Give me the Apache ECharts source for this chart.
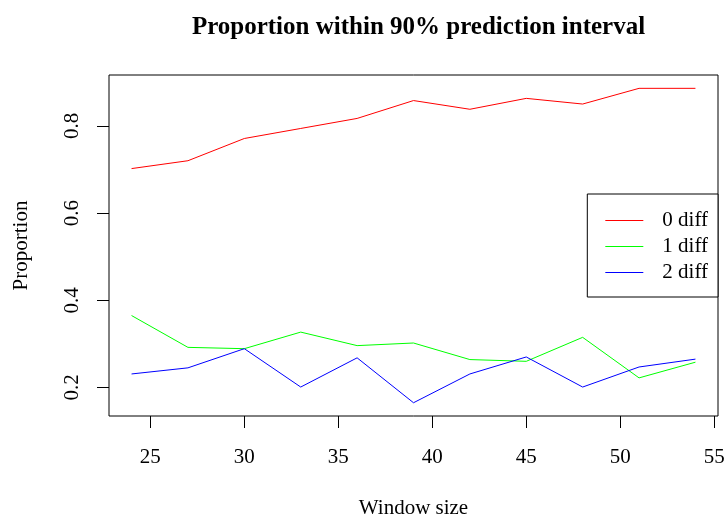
<!DOCTYPE html>
<html>
<head>
<meta charset="utf-8">
<script src="https://cdn.jsdelivr.net/npm/echarts@6/dist/echarts.min.js"></script>
<style>html,body{margin:0;padding:0;background:#fff}#c{width:726px;height:516px}</style>
</head>
<body>
<div id="c"></div>
<script>
const windowSizes = [24, 27, 30, 33, 36, 39, 42, 45, 48, 51, 54];
const diff0 = [0.702, 0.720, 0.771, 0.794, 0.817, 0.858, 0.838, 0.863, 0.850, 0.886, 0.886];
const diff1 = [0.365, 0.292, 0.289, 0.327, 0.296, 0.302, 0.264, 0.260, 0.315, 0.222, 0.258];
const diff2 = [0.231, 0.245, 0.289, 0.201, 0.268, 0.165, 0.231, 0.270, 0.201, 0.247, 0.265];
const xTicks = [25, 30, 35, 40, 45, 50, 55];
const yTicks = [0.2, 0.4, 0.6, 0.8];
const seriesNames = ['0 diff', '1 diff', '2 diff'];
const seriesColors = ['#FF0000', '#00FF00', '#0000FF'];

const FONT = 'Liberation Serif';
const chart = echarts.init(document.getElementById('c'), null, {renderer: 'canvas'});
function pts(vals) { return windowSizes.map((x, i) => [x, vals[i]]); }
function mkSeries(name, vals, color) {
  return {
    name: name, type: 'line', data: pts(vals), symbol: 'none', showSymbol: false,
    lineStyle: {color: color, width: 1}, itemStyle: {color: color},
    silent: true, animation: false
  };
}
chart.setOption({
  backgroundColor: '#fff',
  animation: false,
  title: {
    text: 'Proportion within 90% prediction interval',
    left: 413.5, top: 10, textAlign: 'center',
    textStyle: {fontFamily: FONT, fontWeight: 'bold', fontSize: 25, color: '#000'}
  },
  grid: {left: 109, right: 8, top: 75, bottom: 100, show: true, borderColor: '#000', borderWidth: 1, backgroundColor: 'transparent', containLabel: false, outerBoundsMode: 'none'},
  legend: {
    orient: 'vertical', right: 8, top: 194,
    data: seriesNames.map((n, i) => ({name: n, icon: 'rect', itemStyle: {color: seriesColors[i]}})),
    itemWidth: 38, itemHeight: 1, itemGap: 5,
    padding: [16, 10, 14, 18],
    borderColor: '#000', borderWidth: 1, borderRadius: 0,
    backgroundColor: '#fff',
    textStyle: {fontFamily: FONT, fontSize: 21, color: '#000', padding: [0, 0, 0, 14], lineHeight: 21},
    selectedMode: false
  },
  xAxis: {
    type: 'value', min: 22.8, max: 55.2,
    axisLine: {show: false},
    splitLine: {show: false},
    axisTick: {show: true, length: 12, lineStyle: {color: '#000', width: 1}, customValues: xTicks},
    axisLabel: {show: true, margin: 31, customValues: xTicks, fontFamily: FONT, fontSize: 21, color: '#000', formatter: v => String(v)},
    name: 'Window size', nameLocation: 'middle', nameGap: 82,
    nameTextStyle: {fontFamily: FONT, fontSize: 21, color: '#000'}
  },
  yAxis: {
    type: 'value', min: 0.1346, max: 0.9166,
    axisLine: {show: false},
    splitLine: {show: false},
    axisTick: {show: true, length: 12, lineStyle: {color: '#000', width: 1}, customValues: yTicks},
    axisLabel: {show: true, rotate: 90, margin: 26, customValues: yTicks, fontFamily: FONT, fontSize: 21, color: '#000', formatter: v => v.toFixed(1)},
    name: 'Proportion', nameLocation: 'middle', nameRotate: 90, nameGap: 77,
    nameTextStyle: {fontFamily: FONT, fontSize: 21, color: '#000'}
  },
  series: [
    mkSeries(seriesNames[0], diff0, seriesColors[0]),
    mkSeries(seriesNames[1], diff1, seriesColors[1]),
    mkSeries(seriesNames[2], diff2, seriesColors[2])
  ]
});
</script>
</body>
</html>
